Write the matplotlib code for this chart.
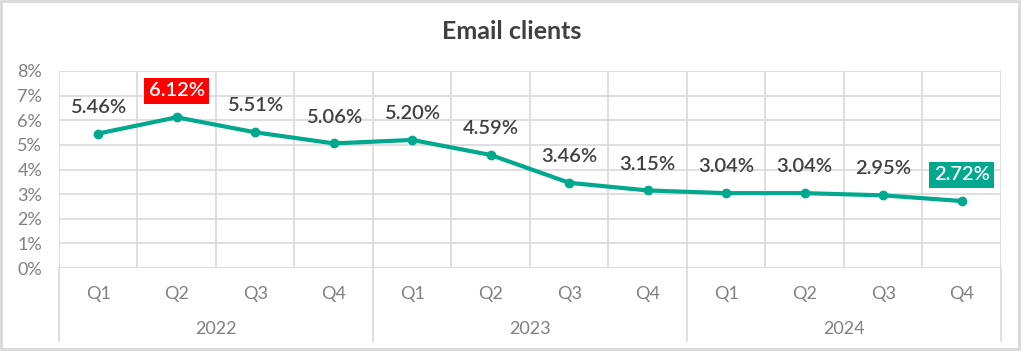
import matplotlib.pyplot as plt
from matplotlib.patches import Rectangle
import matplotlib.transforms as mtransforms

quarters = ['Q1', 'Q2', 'Q3', 'Q4'] * 3
years = ['2022', '2023', '2024']
values = [5.46, 6.12, 5.51, 5.06, 5.20, 4.59, 3.46, 3.15, 3.04, 3.04, 2.95, 2.72]
highlight = {1: '#FF0000', 11: '#00A88E'}

teal = '#00A88E'
dark = '#404040'
grey = '#808080'
gridc = '#D9D9D9'

plt.rcParams['font.family'] = ['Lato', 'DejaVu Sans']

fig = plt.figure(figsize=(10.24, 3.52), dpi=100)
ax = fig.add_axes([0.0576, 0.2386, 0.9199, 0.5597])

x = list(range(len(values)))
ax.plot(x, values, color=teal, lw=3, marker='o', ms=6, zorder=3)

ax.set_xlim(-0.5, len(values) - 0.5)
ax.set_ylim(0, 8)
ax.set_yticks(range(0, 9))
ax.set_yticklabels([f'{v}%' for v in range(0, 9)])

# grid
for v in range(1, 9):
    ax.axhline(v, color=gridc, lw=1.2, zorder=1)
for i in range(len(values) + 1):
    ax.axvline(i - 0.5, color=gridc, lw=1.2, zorder=1)
for s in ax.spines.values():
    s.set_visible(False)
ax.axhline(0, color=gridc, lw=1.2, zorder=1)

ax.set_xticks(x)
ax.set_xticklabels(quarters)
ax.tick_params(axis='x', length=0, pad=13, labelsize=13, labelcolor=grey)
ax.tick_params(axis='y', length=0, pad=12, labelsize=13, labelcolor=grey)

# year groups
trans = mtransforms.blended_transform_factory(ax.transData, ax.transAxes)
for k in range(len(years) + 1):
    xb = k * 4 - 0.5
    ax.plot([xb, xb], [0, -0.37], color=gridc, lw=1.2, transform=trans, clip_on=False)
for k, yr in enumerate(years):
    ax.text(k * 4 + 1.5, -0.31, yr, transform=trans, ha='center', va='center',
            fontsize=13, color=grey)

# data labels
for i, v in enumerate(values):
    txt = f'{v:.2f}%'
    if i in highlight:
        ax.annotate(txt, (i, v), xytext=(0, 19), textcoords='offset points',
                    ha='center', va='center', fontsize=14.5, color='white',
                    fontweight='semibold',
                    bbox=dict(boxstyle='square,pad=0.22', fc=highlight[i], ec='none'))
    else:
        ax.annotate(txt, (i, v), xytext=(0, 19), textcoords='offset points',
                    ha='center', va='center', fontsize=14.5, color=dark,
                    fontweight='semibold')

fig.text(0.5, 0.91, 'Email clients', ha='center', va='center', fontsize=18,
         fontweight='bold', color=dark)

fig.patches.append(Rectangle((0.001, 0.008), 0.994, 0.99, transform=fig.transFigure,
                             fill=False, ec='#D9D9D9', lw=2))

fig.savefig('out.png', dpi=100)
